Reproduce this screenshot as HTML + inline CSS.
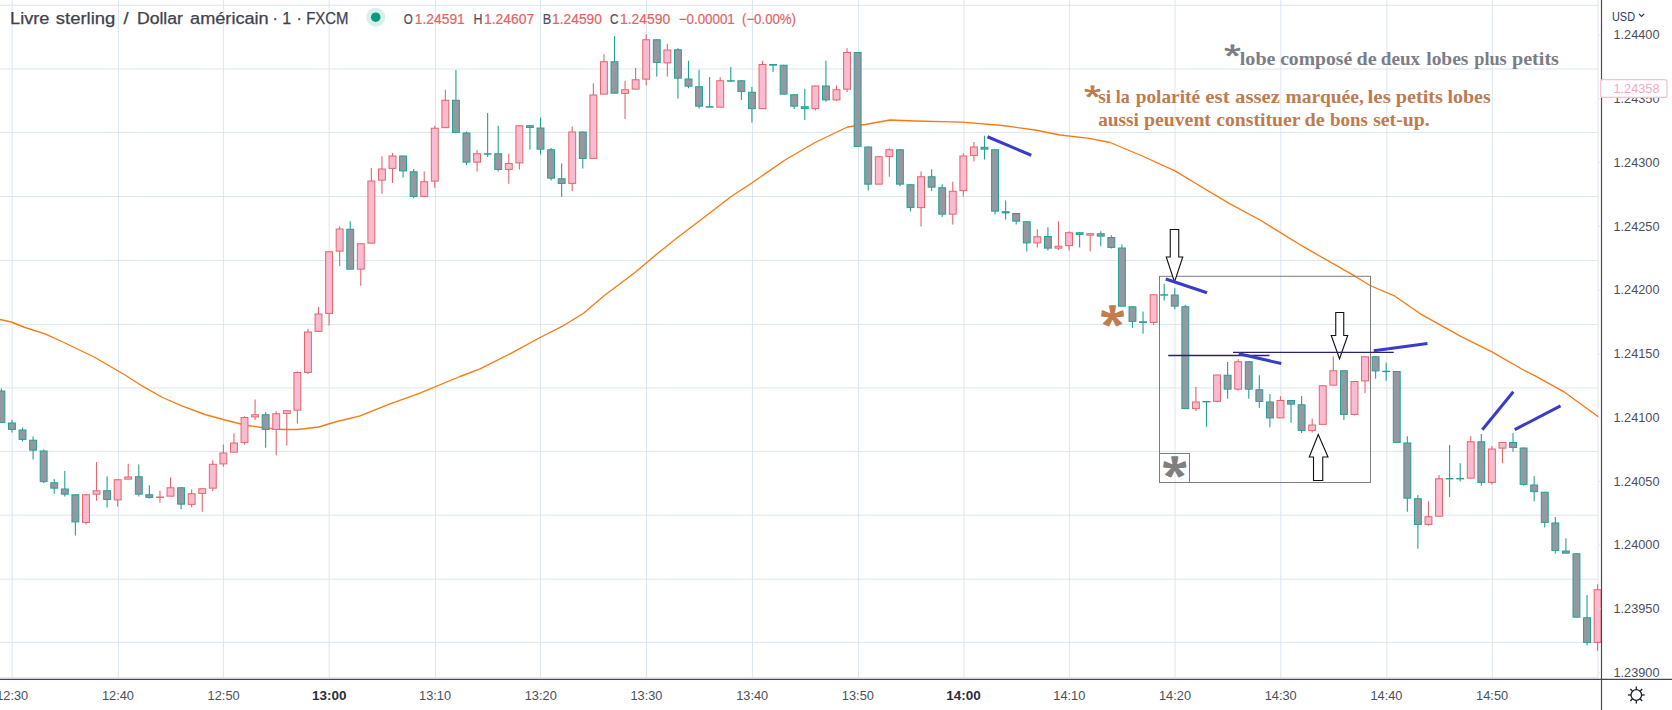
<!DOCTYPE html>
<html lang="fr"><head><meta charset="utf-8"><title>GBPUSD</title>
<style>html,body{margin:0;padding:0;background:#fff}body{width:1672px;height:710px;overflow:hidden}svg{display:block}text{font-family:"Liberation Sans",sans-serif}.ser{font-family:"Liberation Serif",serif;font-weight:bold}</style></head><body>
<svg width="1672" height="710" viewBox="0 0 1672 710">
<rect x="0" y="0" width="1672" height="710" fill="#ffffff"/>
<g stroke="#dce6ef" stroke-width="1" fill="none">
<line x1="0" y1="5.30" x2="1598.5" y2="5.30"/>
<line x1="0" y1="69.00" x2="1598.5" y2="69.00"/>
<line x1="0" y1="132.40" x2="1598.5" y2="132.40"/>
<line x1="0" y1="196.50" x2="1598.5" y2="196.50"/>
<line x1="0" y1="260.40" x2="1598.5" y2="260.40"/>
<line x1="0" y1="324.40" x2="1598.5" y2="324.40"/>
<line x1="0" y1="387.90" x2="1598.5" y2="387.90"/>
<line x1="0" y1="451.40" x2="1598.5" y2="451.40"/>
<line x1="0" y1="515.20" x2="1598.5" y2="515.20"/>
<line x1="0" y1="579.20" x2="1598.5" y2="579.20"/>
<line x1="0" y1="642.40" x2="1598.5" y2="642.40"/>
<line x1="12.20" y1="0" x2="12.20" y2="678"/>
<line x1="118.40" y1="0" x2="118.40" y2="678"/>
<line x1="223.40" y1="0" x2="223.40" y2="678"/>
<line x1="329.20" y1="0" x2="329.20" y2="678"/>
<line x1="435.50" y1="0" x2="435.50" y2="678"/>
<line x1="540.50" y1="0" x2="540.50" y2="678"/>
<line x1="646.50" y1="0" x2="646.50" y2="678"/>
<line x1="752.40" y1="0" x2="752.40" y2="678"/>
<line x1="858.50" y1="0" x2="858.50" y2="678"/>
<line x1="963.90" y1="0" x2="963.90" y2="678"/>
<line x1="1069.40" y1="0" x2="1069.40" y2="678"/>
<line x1="1175.00" y1="0" x2="1175.00" y2="678"/>
<line x1="1280.80" y1="0" x2="1280.80" y2="678"/>
<line x1="1386.80" y1="0" x2="1386.80" y2="678"/>
<line x1="1492.30" y1="0" x2="1492.30" y2="678"/>
<line x1="1597.90" y1="0" x2="1597.90" y2="678"/>
</g>
<line x1="0" y1="677.6" x2="1598.5" y2="677.6" stroke="#dce6ef" stroke-width="1"/>
<polyline fill="none" stroke="#fa7a12" stroke-width="1.35" stroke-linejoin="round" points="0.0,319.5 11.2,322.0 25.0,327.5 45.0,333.8 65.0,343.0 95.0,357.5 125.0,375.0 142.5,386.2 162.5,397.5 182.5,406.2 205.0,414.5 225.0,420.0 245.0,425.0 265.0,428.0 282.5,429.5 297.5,429.5 318.8,427.0 335.0,422.0 360.0,415.8 390.0,403.8 418.0,393.8 460.0,376.5 480.0,368.8 510.0,353.8 540.0,337.5 562.5,326.2 583.8,313.0 605.0,295.0 635.0,272.5 655.0,255.5 677.5,237.5 698.0,222.0 731.2,196.5 752.5,182.5 785.0,160.0 815.0,142.5 847.5,127.0 865.0,124.5 890.0,120.0 915.0,121.0 962.5,122.2 1002.5,125.5 1035.0,130.0 1060.0,135.0 1087.5,138.2 1110.0,142.5 1140.0,155.0 1175.0,170.8 1202.5,187.5 1230.0,203.8 1260.0,220.0 1302.5,246.2 1355.0,276.2 1370.0,285.5 1395.0,296.2 1420.3,313.8 1460.8,336.3 1492.4,352.1 1521.7,369.0 1535.2,375.8 1564.5,392.2 1598.3,416.8"/>
<g id="candles">
<line x1="1.38" y1="388.50" x2="1.38" y2="422.50" stroke="#24a093" stroke-width="1.1"/>
<rect x="-2.07" y="391.00" width="6.90" height="31.40" fill="#9598a1" stroke="#24a093" stroke-width="1"/>
<line x1="11.95" y1="420.00" x2="11.95" y2="432.50" stroke="#24a093" stroke-width="1.1"/>
<rect x="8.50" y="423.00" width="6.90" height="6.40" fill="#9598a1" stroke="#24a093" stroke-width="1"/>
<line x1="22.52" y1="427.50" x2="22.52" y2="441.50" stroke="#24a093" stroke-width="1.1"/>
<rect x="19.07" y="430.00" width="6.90" height="9.40" fill="#9598a1" stroke="#24a093" stroke-width="1"/>
<line x1="33.09" y1="436.50" x2="33.09" y2="459.50" stroke="#24a093" stroke-width="1.1"/>
<rect x="29.64" y="440.25" width="6.90" height="9.90" fill="#9598a1" stroke="#24a093" stroke-width="1"/>
<line x1="43.66" y1="449.50" x2="43.66" y2="483.00" stroke="#24a093" stroke-width="1.1"/>
<rect x="40.21" y="451.00" width="6.90" height="30.65" fill="#9598a1" stroke="#24a093" stroke-width="1"/>
<line x1="54.23" y1="479.00" x2="54.23" y2="493.75" stroke="#24a093" stroke-width="1.1"/>
<rect x="50.78" y="482.75" width="6.90" height="5.40" fill="#9598a1" stroke="#24a093" stroke-width="1"/>
<line x1="64.80" y1="471.00" x2="64.80" y2="496.50" stroke="#24a093" stroke-width="1.1"/>
<rect x="61.35" y="489.00" width="6.90" height="5.15" fill="#9598a1" stroke="#24a093" stroke-width="1"/>
<line x1="75.38" y1="494.25" x2="75.38" y2="535.50" stroke="#24a093" stroke-width="1.1"/>
<rect x="71.93" y="494.75" width="6.90" height="27.15" fill="#9598a1" stroke="#24a093" stroke-width="1"/>
<line x1="85.95" y1="494.25" x2="85.95" y2="524.50" stroke="#e4666c" stroke-width="1.1"/>
<rect x="82.50" y="494.75" width="6.90" height="27.65" fill="#f8bbd0" stroke="#e4666c" stroke-width="1"/>
<line x1="96.52" y1="462.00" x2="96.52" y2="500.75" stroke="#e4666c" stroke-width="1.1"/>
<rect x="93.07" y="490.75" width="6.90" height="3.40" fill="#f8bbd0" stroke="#e4666c" stroke-width="1"/>
<line x1="107.09" y1="476.25" x2="107.09" y2="507.50" stroke="#24a093" stroke-width="1.1"/>
<rect x="103.64" y="490.75" width="6.90" height="8.65" fill="#9598a1" stroke="#24a093" stroke-width="1"/>
<line x1="117.66" y1="479.25" x2="117.66" y2="506.50" stroke="#e4666c" stroke-width="1.1"/>
<rect x="114.21" y="479.75" width="6.90" height="20.15" fill="#f8bbd0" stroke="#e4666c" stroke-width="1"/>
<line x1="128.23" y1="463.75" x2="128.23" y2="479.25" stroke="#e4666c" stroke-width="1.1"/>
<rect x="124.78" y="477.00" width="6.90" height="2.15" fill="#f8bbd0" stroke="#e4666c" stroke-width="1"/>
<line x1="138.80" y1="464.50" x2="138.80" y2="496.50" stroke="#24a093" stroke-width="1.1"/>
<rect x="135.35" y="476.75" width="6.90" height="17.40" fill="#9598a1" stroke="#24a093" stroke-width="1"/>
<line x1="149.37" y1="485.25" x2="149.37" y2="498.50" stroke="#24a093" stroke-width="1.1"/>
<rect x="145.92" y="494.75" width="6.90" height="2.65" fill="#9598a1" stroke="#24a093" stroke-width="1"/>
<line x1="159.94" y1="490.75" x2="159.94" y2="502.75" stroke="#e4666c" stroke-width="1.1"/>
<rect x="156.49" y="497.00" width="6.90" height="0.40" fill="#f8bbd0" stroke="#e4666c" stroke-width="1"/>
<line x1="170.51" y1="477.25" x2="170.51" y2="496.25" stroke="#e4666c" stroke-width="1.1"/>
<rect x="167.06" y="487.75" width="6.90" height="8.40" fill="#f8bbd0" stroke="#e4666c" stroke-width="1"/>
<line x1="181.09" y1="487.25" x2="181.09" y2="509.25" stroke="#24a093" stroke-width="1.1"/>
<rect x="177.64" y="487.75" width="6.90" height="16.40" fill="#9598a1" stroke="#24a093" stroke-width="1"/>
<line x1="191.66" y1="489.25" x2="191.66" y2="507.50" stroke="#e4666c" stroke-width="1.1"/>
<rect x="188.21" y="493.75" width="6.90" height="10.65" fill="#f8bbd0" stroke="#e4666c" stroke-width="1"/>
<line x1="202.23" y1="488.25" x2="202.23" y2="511.75" stroke="#e4666c" stroke-width="1.1"/>
<rect x="198.78" y="488.75" width="6.90" height="4.65" fill="#f8bbd0" stroke="#e4666c" stroke-width="1"/>
<line x1="212.80" y1="460.25" x2="212.80" y2="491.25" stroke="#e4666c" stroke-width="1.1"/>
<rect x="209.35" y="464.25" width="6.90" height="23.90" fill="#f8bbd0" stroke="#e4666c" stroke-width="1"/>
<line x1="223.37" y1="444.50" x2="223.37" y2="466.75" stroke="#e4666c" stroke-width="1.1"/>
<rect x="219.92" y="453.00" width="6.90" height="10.90" fill="#f8bbd0" stroke="#e4666c" stroke-width="1"/>
<line x1="233.94" y1="433.25" x2="233.94" y2="452.25" stroke="#e4666c" stroke-width="1.1"/>
<rect x="230.49" y="443.00" width="6.90" height="9.15" fill="#f8bbd0" stroke="#e4666c" stroke-width="1"/>
<line x1="244.51" y1="416.25" x2="244.51" y2="444.50" stroke="#e4666c" stroke-width="1.1"/>
<rect x="241.06" y="417.50" width="6.90" height="24.90" fill="#f8bbd0" stroke="#e4666c" stroke-width="1"/>
<line x1="255.08" y1="399.50" x2="255.08" y2="420.00" stroke="#e4666c" stroke-width="1.1"/>
<rect x="251.63" y="414.75" width="6.90" height="2.15" fill="#f8bbd0" stroke="#e4666c" stroke-width="1"/>
<line x1="265.65" y1="412.25" x2="265.65" y2="447.75" stroke="#24a093" stroke-width="1.1"/>
<rect x="262.20" y="414.75" width="6.90" height="14.65" fill="#9598a1" stroke="#24a093" stroke-width="1"/>
<line x1="276.22" y1="411.25" x2="276.22" y2="455.25" stroke="#e4666c" stroke-width="1.1"/>
<rect x="272.77" y="413.75" width="6.90" height="15.65" fill="#f8bbd0" stroke="#e4666c" stroke-width="1"/>
<line x1="286.80" y1="410.25" x2="286.80" y2="445.50" stroke="#e4666c" stroke-width="1.1"/>
<rect x="283.35" y="410.75" width="6.90" height="2.65" fill="#f8bbd0" stroke="#e4666c" stroke-width="1"/>
<line x1="297.37" y1="371.25" x2="297.37" y2="423.50" stroke="#e4666c" stroke-width="1.1"/>
<rect x="293.92" y="372.50" width="6.90" height="37.65" fill="#f8bbd0" stroke="#e4666c" stroke-width="1"/>
<line x1="307.94" y1="328.75" x2="307.94" y2="374.00" stroke="#e4666c" stroke-width="1.1"/>
<rect x="304.49" y="332.00" width="6.90" height="40.40" fill="#f8bbd0" stroke="#e4666c" stroke-width="1"/>
<line x1="318.51" y1="307.00" x2="318.51" y2="331.50" stroke="#e4666c" stroke-width="1.1"/>
<rect x="315.06" y="314.00" width="6.90" height="17.40" fill="#f8bbd0" stroke="#e4666c" stroke-width="1"/>
<line x1="329.08" y1="251.25" x2="329.08" y2="325.50" stroke="#e4666c" stroke-width="1.1"/>
<rect x="325.63" y="251.75" width="6.90" height="61.65" fill="#f8bbd0" stroke="#e4666c" stroke-width="1"/>
<line x1="339.65" y1="226.50" x2="339.65" y2="266.00" stroke="#e4666c" stroke-width="1.1"/>
<rect x="336.20" y="229.00" width="6.90" height="22.15" fill="#f8bbd0" stroke="#e4666c" stroke-width="1"/>
<line x1="350.22" y1="221.25" x2="350.22" y2="269.25" stroke="#24a093" stroke-width="1.1"/>
<rect x="346.77" y="229.25" width="6.90" height="39.90" fill="#9598a1" stroke="#24a093" stroke-width="1"/>
<line x1="360.79" y1="243.25" x2="360.79" y2="285.75" stroke="#e4666c" stroke-width="1.1"/>
<rect x="357.34" y="243.75" width="6.90" height="25.40" fill="#f8bbd0" stroke="#e4666c" stroke-width="1"/>
<line x1="371.36" y1="168.00" x2="371.36" y2="243.25" stroke="#e4666c" stroke-width="1.1"/>
<rect x="367.91" y="181.00" width="6.90" height="62.15" fill="#f8bbd0" stroke="#e4666c" stroke-width="1"/>
<line x1="381.94" y1="156.25" x2="381.94" y2="193.75" stroke="#e4666c" stroke-width="1.1"/>
<rect x="378.49" y="169.00" width="6.90" height="11.15" fill="#f8bbd0" stroke="#e4666c" stroke-width="1"/>
<line x1="392.51" y1="153.00" x2="392.51" y2="183.00" stroke="#e4666c" stroke-width="1.1"/>
<rect x="389.06" y="156.00" width="6.90" height="12.40" fill="#f8bbd0" stroke="#e4666c" stroke-width="1"/>
<line x1="403.08" y1="155.50" x2="403.08" y2="177.50" stroke="#24a093" stroke-width="1.1"/>
<rect x="399.63" y="156.00" width="6.90" height="14.90" fill="#9598a1" stroke="#24a093" stroke-width="1"/>
<line x1="413.65" y1="169.00" x2="413.65" y2="198.25" stroke="#24a093" stroke-width="1.1"/>
<rect x="410.20" y="171.75" width="6.90" height="24.65" fill="#9598a1" stroke="#24a093" stroke-width="1"/>
<line x1="424.22" y1="171.50" x2="424.22" y2="196.50" stroke="#e4666c" stroke-width="1.1"/>
<rect x="420.77" y="181.75" width="6.90" height="14.65" fill="#f8bbd0" stroke="#e4666c" stroke-width="1"/>
<line x1="434.79" y1="125.75" x2="434.79" y2="187.75" stroke="#e4666c" stroke-width="1.1"/>
<rect x="431.34" y="128.25" width="6.90" height="52.90" fill="#f8bbd0" stroke="#e4666c" stroke-width="1"/>
<line x1="445.36" y1="89.75" x2="445.36" y2="127.75" stroke="#e4666c" stroke-width="1.1"/>
<rect x="441.91" y="100.25" width="6.90" height="27.40" fill="#f8bbd0" stroke="#e4666c" stroke-width="1"/>
<line x1="455.93" y1="70.00" x2="455.93" y2="132.50" stroke="#24a093" stroke-width="1.1"/>
<rect x="452.48" y="100.25" width="6.90" height="32.15" fill="#9598a1" stroke="#24a093" stroke-width="1"/>
<line x1="466.50" y1="131.50" x2="466.50" y2="165.00" stroke="#24a093" stroke-width="1.1"/>
<rect x="463.05" y="133.00" width="6.90" height="29.15" fill="#9598a1" stroke="#24a093" stroke-width="1"/>
<line x1="477.07" y1="150.00" x2="477.07" y2="171.50" stroke="#e4666c" stroke-width="1.1"/>
<rect x="473.62" y="153.75" width="6.90" height="8.40" fill="#f8bbd0" stroke="#e4666c" stroke-width="1"/>
<line x1="487.64" y1="113.00" x2="487.64" y2="157.00" stroke="#24a093" stroke-width="1.1"/>
<rect x="484.19" y="153.75" width="6.90" height="0.40" fill="#9598a1" stroke="#24a093" stroke-width="1"/>
<line x1="498.22" y1="125.75" x2="498.22" y2="171.50" stroke="#24a093" stroke-width="1.1"/>
<rect x="494.77" y="153.75" width="6.90" height="15.65" fill="#9598a1" stroke="#24a093" stroke-width="1"/>
<line x1="508.79" y1="153.75" x2="508.79" y2="183.75" stroke="#e4666c" stroke-width="1.1"/>
<rect x="505.34" y="163.50" width="6.90" height="5.90" fill="#f8bbd0" stroke="#e4666c" stroke-width="1"/>
<line x1="519.36" y1="125.25" x2="519.36" y2="169.50" stroke="#e4666c" stroke-width="1.1"/>
<rect x="515.91" y="125.75" width="6.90" height="37.15" fill="#f8bbd0" stroke="#e4666c" stroke-width="1"/>
<line x1="529.93" y1="125.25" x2="529.93" y2="149.50" stroke="#24a093" stroke-width="1.1"/>
<rect x="526.48" y="125.75" width="6.90" height="1.65" fill="#9598a1" stroke="#24a093" stroke-width="1"/>
<line x1="540.50" y1="117.50" x2="540.50" y2="154.25" stroke="#24a093" stroke-width="1.1"/>
<rect x="537.05" y="128.00" width="6.90" height="21.15" fill="#9598a1" stroke="#24a093" stroke-width="1"/>
<line x1="551.07" y1="148.00" x2="551.07" y2="180.50" stroke="#24a093" stroke-width="1.1"/>
<rect x="547.62" y="149.75" width="6.90" height="28.40" fill="#9598a1" stroke="#24a093" stroke-width="1"/>
<line x1="561.64" y1="163.50" x2="561.64" y2="196.75" stroke="#24a093" stroke-width="1.1"/>
<rect x="558.19" y="178.75" width="6.90" height="4.65" fill="#9598a1" stroke="#24a093" stroke-width="1"/>
<line x1="572.21" y1="126.50" x2="572.21" y2="191.00" stroke="#e4666c" stroke-width="1.1"/>
<rect x="568.76" y="132.00" width="6.90" height="51.40" fill="#f8bbd0" stroke="#e4666c" stroke-width="1"/>
<line x1="582.78" y1="131.50" x2="582.78" y2="168.50" stroke="#24a093" stroke-width="1.1"/>
<rect x="579.33" y="132.00" width="6.90" height="26.40" fill="#9598a1" stroke="#24a093" stroke-width="1"/>
<line x1="593.36" y1="83.25" x2="593.36" y2="158.50" stroke="#e4666c" stroke-width="1.1"/>
<rect x="589.90" y="95.00" width="6.90" height="63.40" fill="#f8bbd0" stroke="#e4666c" stroke-width="1"/>
<line x1="603.93" y1="54.25" x2="603.93" y2="94.25" stroke="#e4666c" stroke-width="1.1"/>
<rect x="600.48" y="61.75" width="6.90" height="32.40" fill="#f8bbd0" stroke="#e4666c" stroke-width="1"/>
<line x1="614.50" y1="36.25" x2="614.50" y2="93.25" stroke="#24a093" stroke-width="1.1"/>
<rect x="611.05" y="61.75" width="6.90" height="31.40" fill="#9598a1" stroke="#24a093" stroke-width="1"/>
<line x1="625.07" y1="80.75" x2="625.07" y2="119.00" stroke="#e4666c" stroke-width="1.1"/>
<rect x="621.62" y="89.75" width="6.90" height="3.65" fill="#f8bbd0" stroke="#e4666c" stroke-width="1"/>
<line x1="635.64" y1="68.00" x2="635.64" y2="89.25" stroke="#e4666c" stroke-width="1.1"/>
<rect x="632.19" y="79.75" width="6.90" height="9.40" fill="#f8bbd0" stroke="#e4666c" stroke-width="1"/>
<line x1="646.21" y1="34.25" x2="646.21" y2="85.50" stroke="#e4666c" stroke-width="1.1"/>
<rect x="642.76" y="39.75" width="6.90" height="39.40" fill="#f8bbd0" stroke="#e4666c" stroke-width="1"/>
<line x1="656.78" y1="39.25" x2="656.78" y2="76.50" stroke="#24a093" stroke-width="1.1"/>
<rect x="653.33" y="39.75" width="6.90" height="22.65" fill="#9598a1" stroke="#24a093" stroke-width="1"/>
<line x1="667.35" y1="43.75" x2="667.35" y2="76.50" stroke="#e4666c" stroke-width="1.1"/>
<rect x="663.90" y="50.00" width="6.90" height="12.90" fill="#f8bbd0" stroke="#e4666c" stroke-width="1"/>
<line x1="677.92" y1="48.25" x2="677.92" y2="98.50" stroke="#24a093" stroke-width="1.1"/>
<rect x="674.47" y="49.75" width="6.90" height="28.40" fill="#9598a1" stroke="#24a093" stroke-width="1"/>
<line x1="688.49" y1="60.75" x2="688.49" y2="88.25" stroke="#24a093" stroke-width="1.1"/>
<rect x="685.04" y="79.00" width="6.90" height="7.15" fill="#9598a1" stroke="#24a093" stroke-width="1"/>
<line x1="699.07" y1="69.75" x2="699.07" y2="108.75" stroke="#24a093" stroke-width="1.1"/>
<rect x="695.62" y="86.75" width="6.90" height="19.40" fill="#9598a1" stroke="#24a093" stroke-width="1"/>
<line x1="709.64" y1="77.00" x2="709.64" y2="107.25" stroke="#24a093" stroke-width="1.1"/>
<rect x="706.19" y="106.75" width="6.90" height="0.40" fill="#9598a1" stroke="#24a093" stroke-width="1"/>
<line x1="720.21" y1="77.25" x2="720.21" y2="107.25" stroke="#e4666c" stroke-width="1.1"/>
<rect x="716.76" y="80.75" width="6.90" height="26.40" fill="#f8bbd0" stroke="#e4666c" stroke-width="1"/>
<line x1="730.78" y1="67.00" x2="730.78" y2="82.00" stroke="#24a093" stroke-width="1.1"/>
<rect x="727.33" y="80.75" width="6.90" height="0.40" fill="#9598a1" stroke="#24a093" stroke-width="1"/>
<line x1="741.35" y1="80.25" x2="741.35" y2="100.00" stroke="#24a093" stroke-width="1.1"/>
<rect x="737.90" y="80.75" width="6.90" height="10.65" fill="#9598a1" stroke="#24a093" stroke-width="1"/>
<line x1="751.92" y1="87.00" x2="751.92" y2="122.50" stroke="#24a093" stroke-width="1.1"/>
<rect x="748.47" y="92.25" width="6.90" height="16.40" fill="#9598a1" stroke="#24a093" stroke-width="1"/>
<line x1="762.49" y1="60.75" x2="762.49" y2="108.75" stroke="#e4666c" stroke-width="1.1"/>
<rect x="759.04" y="64.50" width="6.90" height="44.15" fill="#f8bbd0" stroke="#e4666c" stroke-width="1"/>
<line x1="773.06" y1="64.00" x2="773.06" y2="72.00" stroke="#24a093" stroke-width="1.1"/>
<rect x="769.61" y="64.50" width="6.90" height="0.65" fill="#9598a1" stroke="#24a093" stroke-width="1"/>
<line x1="783.63" y1="64.75" x2="783.63" y2="94.25" stroke="#24a093" stroke-width="1.1"/>
<rect x="780.18" y="65.25" width="6.90" height="28.90" fill="#9598a1" stroke="#24a093" stroke-width="1"/>
<line x1="794.20" y1="94.25" x2="794.20" y2="109.00" stroke="#24a093" stroke-width="1.1"/>
<rect x="790.75" y="94.75" width="6.90" height="11.40" fill="#9598a1" stroke="#24a093" stroke-width="1"/>
<line x1="804.77" y1="88.75" x2="804.77" y2="120.00" stroke="#24a093" stroke-width="1.1"/>
<rect x="801.32" y="106.75" width="6.90" height="1.90" fill="#9598a1" stroke="#24a093" stroke-width="1"/>
<line x1="815.35" y1="85.50" x2="815.35" y2="110.50" stroke="#e4666c" stroke-width="1.1"/>
<rect x="811.90" y="86.00" width="6.90" height="22.65" fill="#f8bbd0" stroke="#e4666c" stroke-width="1"/>
<line x1="825.92" y1="60.75" x2="825.92" y2="101.75" stroke="#24a093" stroke-width="1.1"/>
<rect x="822.47" y="86.00" width="6.90" height="13.90" fill="#9598a1" stroke="#24a093" stroke-width="1"/>
<line x1="836.49" y1="85.50" x2="836.49" y2="101.00" stroke="#e4666c" stroke-width="1.1"/>
<rect x="833.04" y="89.75" width="6.90" height="10.15" fill="#f8bbd0" stroke="#e4666c" stroke-width="1"/>
<line x1="847.06" y1="48.25" x2="847.06" y2="92.00" stroke="#e4666c" stroke-width="1.1"/>
<rect x="843.61" y="52.50" width="6.90" height="36.65" fill="#f8bbd0" stroke="#e4666c" stroke-width="1"/>
<line x1="857.63" y1="52.00" x2="857.63" y2="146.50" stroke="#24a093" stroke-width="1.1"/>
<rect x="854.18" y="52.50" width="6.90" height="93.90" fill="#9598a1" stroke="#24a093" stroke-width="1"/>
<line x1="868.20" y1="146.50" x2="868.20" y2="190.50" stroke="#24a093" stroke-width="1.1"/>
<rect x="864.75" y="147.00" width="6.90" height="37.15" fill="#9598a1" stroke="#24a093" stroke-width="1"/>
<line x1="878.77" y1="156.25" x2="878.77" y2="184.25" stroke="#e4666c" stroke-width="1.1"/>
<rect x="875.32" y="156.75" width="6.90" height="27.40" fill="#f8bbd0" stroke="#e4666c" stroke-width="1"/>
<line x1="889.34" y1="148.25" x2="889.34" y2="176.75" stroke="#e4666c" stroke-width="1.1"/>
<rect x="885.89" y="149.75" width="6.90" height="6.65" fill="#f8bbd0" stroke="#e4666c" stroke-width="1"/>
<line x1="899.91" y1="149.25" x2="899.91" y2="186.25" stroke="#24a093" stroke-width="1.1"/>
<rect x="896.46" y="149.75" width="6.90" height="34.40" fill="#9598a1" stroke="#24a093" stroke-width="1"/>
<line x1="910.49" y1="184.25" x2="910.49" y2="211.50" stroke="#24a093" stroke-width="1.1"/>
<rect x="907.03" y="184.75" width="6.90" height="22.65" fill="#9598a1" stroke="#24a093" stroke-width="1"/>
<line x1="921.06" y1="171.50" x2="921.06" y2="226.50" stroke="#e4666c" stroke-width="1.1"/>
<rect x="917.61" y="176.75" width="6.90" height="30.90" fill="#f8bbd0" stroke="#e4666c" stroke-width="1"/>
<line x1="931.63" y1="169.25" x2="931.63" y2="191.00" stroke="#24a093" stroke-width="1.1"/>
<rect x="928.18" y="176.75" width="6.90" height="10.40" fill="#9598a1" stroke="#24a093" stroke-width="1"/>
<line x1="942.20" y1="184.25" x2="942.20" y2="217.00" stroke="#24a093" stroke-width="1.1"/>
<rect x="938.75" y="187.75" width="6.90" height="26.40" fill="#9598a1" stroke="#24a093" stroke-width="1"/>
<line x1="952.77" y1="181.75" x2="952.77" y2="224.50" stroke="#e4666c" stroke-width="1.1"/>
<rect x="949.32" y="191.25" width="6.90" height="22.90" fill="#f8bbd0" stroke="#e4666c" stroke-width="1"/>
<line x1="963.34" y1="153.25" x2="963.34" y2="196.50" stroke="#e4666c" stroke-width="1.1"/>
<rect x="959.89" y="156.00" width="6.90" height="34.65" fill="#f8bbd0" stroke="#e4666c" stroke-width="1"/>
<line x1="973.91" y1="142.00" x2="973.91" y2="161.50" stroke="#e4666c" stroke-width="1.1"/>
<rect x="970.46" y="147.00" width="6.90" height="8.40" fill="#f8bbd0" stroke="#e4666c" stroke-width="1"/>
<line x1="984.48" y1="135.75" x2="984.48" y2="159.50" stroke="#24a093" stroke-width="1.1"/>
<rect x="981.03" y="147.25" width="6.90" height="1.90" fill="#9598a1" stroke="#24a093" stroke-width="1"/>
<line x1="995.05" y1="149.25" x2="995.05" y2="214.50" stroke="#24a093" stroke-width="1.1"/>
<rect x="991.60" y="149.75" width="6.90" height="61.40" fill="#9598a1" stroke="#24a093" stroke-width="1"/>
<line x1="1005.62" y1="200.50" x2="1005.62" y2="219.50" stroke="#24a093" stroke-width="1.1"/>
<rect x="1002.17" y="211.75" width="6.90" height="1.15" fill="#9598a1" stroke="#24a093" stroke-width="1"/>
<line x1="1016.20" y1="213.00" x2="1016.20" y2="224.50" stroke="#24a093" stroke-width="1.1"/>
<rect x="1012.75" y="213.50" width="6.90" height="7.65" fill="#9598a1" stroke="#24a093" stroke-width="1"/>
<line x1="1026.77" y1="221.25" x2="1026.77" y2="251.50" stroke="#24a093" stroke-width="1.1"/>
<rect x="1023.32" y="221.75" width="6.90" height="21.15" fill="#9598a1" stroke="#24a093" stroke-width="1"/>
<line x1="1037.34" y1="229.25" x2="1037.34" y2="247.50" stroke="#e4666c" stroke-width="1.1"/>
<rect x="1033.89" y="236.75" width="6.90" height="6.15" fill="#f8bbd0" stroke="#e4666c" stroke-width="1"/>
<line x1="1047.91" y1="227.25" x2="1047.91" y2="250.50" stroke="#24a093" stroke-width="1.1"/>
<rect x="1044.46" y="236.50" width="6.90" height="11.65" fill="#9598a1" stroke="#24a093" stroke-width="1"/>
<line x1="1058.48" y1="221.25" x2="1058.48" y2="250.00" stroke="#e4666c" stroke-width="1.1"/>
<rect x="1055.03" y="246.25" width="6.90" height="1.90" fill="#f8bbd0" stroke="#e4666c" stroke-width="1"/>
<line x1="1069.05" y1="231.25" x2="1069.05" y2="250.50" stroke="#e4666c" stroke-width="1.1"/>
<rect x="1065.60" y="232.75" width="6.90" height="12.90" fill="#f8bbd0" stroke="#e4666c" stroke-width="1"/>
<line x1="1079.62" y1="232.25" x2="1079.62" y2="247.50" stroke="#24a093" stroke-width="1.1"/>
<rect x="1076.17" y="232.75" width="6.90" height="1.65" fill="#9598a1" stroke="#24a093" stroke-width="1"/>
<line x1="1090.19" y1="233.25" x2="1090.19" y2="251.50" stroke="#e4666c" stroke-width="1.1"/>
<rect x="1086.74" y="233.75" width="6.90" height="1.40" fill="#f8bbd0" stroke="#e4666c" stroke-width="1"/>
<line x1="1100.76" y1="231.25" x2="1100.76" y2="246.25" stroke="#24a093" stroke-width="1.1"/>
<rect x="1097.31" y="233.75" width="6.90" height="2.40" fill="#9598a1" stroke="#24a093" stroke-width="1"/>
<line x1="1111.33" y1="235.25" x2="1111.33" y2="248.50" stroke="#24a093" stroke-width="1.1"/>
<rect x="1107.88" y="237.50" width="6.90" height="9.90" fill="#9598a1" stroke="#24a093" stroke-width="1"/>
<line x1="1121.90" y1="244.25" x2="1121.90" y2="306.25" stroke="#24a093" stroke-width="1.1"/>
<rect x="1118.45" y="248.00" width="6.90" height="58.15" fill="#9598a1" stroke="#24a093" stroke-width="1"/>
<line x1="1132.48" y1="306.25" x2="1132.48" y2="328.00" stroke="#24a093" stroke-width="1.1"/>
<rect x="1129.03" y="306.75" width="6.90" height="14.65" fill="#9598a1" stroke="#24a093" stroke-width="1"/>
<line x1="1143.05" y1="311.50" x2="1143.05" y2="333.75" stroke="#24a093" stroke-width="1.1"/>
<rect x="1139.60" y="321.75" width="6.90" height="0.65" fill="#9598a1" stroke="#24a093" stroke-width="1"/>
<line x1="1153.62" y1="294.25" x2="1153.62" y2="325.00" stroke="#e4666c" stroke-width="1.1"/>
<rect x="1150.17" y="294.75" width="6.90" height="27.65" fill="#f8bbd0" stroke="#e4666c" stroke-width="1"/>
<line x1="1164.19" y1="283.75" x2="1164.19" y2="300.50" stroke="#24a093" stroke-width="1.1"/>
<rect x="1160.74" y="294.75" width="6.90" height="0.40" fill="#9598a1" stroke="#24a093" stroke-width="1"/>
<line x1="1174.76" y1="288.25" x2="1174.76" y2="309.25" stroke="#24a093" stroke-width="1.1"/>
<rect x="1171.31" y="295.00" width="6.90" height="11.15" fill="#9598a1" stroke="#24a093" stroke-width="1"/>
<line x1="1185.33" y1="305.00" x2="1185.33" y2="408.75" stroke="#24a093" stroke-width="1.1"/>
<rect x="1181.88" y="306.75" width="6.90" height="101.90" fill="#9598a1" stroke="#24a093" stroke-width="1"/>
<line x1="1195.90" y1="387.00" x2="1195.90" y2="411.00" stroke="#e4666c" stroke-width="1.1"/>
<rect x="1192.45" y="402.00" width="6.90" height="6.65" fill="#f8bbd0" stroke="#e4666c" stroke-width="1"/>
<line x1="1206.47" y1="401.00" x2="1206.47" y2="426.75" stroke="#24a093" stroke-width="1.1"/>
<rect x="1203.02" y="401.50" width="6.90" height="0.40" fill="#9598a1" stroke="#24a093" stroke-width="1"/>
<line x1="1217.04" y1="374.50" x2="1217.04" y2="401.50" stroke="#e4666c" stroke-width="1.1"/>
<rect x="1213.59" y="375.00" width="6.90" height="26.40" fill="#f8bbd0" stroke="#e4666c" stroke-width="1"/>
<line x1="1227.62" y1="362.00" x2="1227.62" y2="398.75" stroke="#24a093" stroke-width="1.1"/>
<rect x="1224.16" y="375.25" width="6.90" height="13.90" fill="#9598a1" stroke="#24a093" stroke-width="1"/>
<line x1="1238.19" y1="359.25" x2="1238.19" y2="390.75" stroke="#e4666c" stroke-width="1.1"/>
<rect x="1234.74" y="361.75" width="6.90" height="27.40" fill="#f8bbd0" stroke="#e4666c" stroke-width="1"/>
<line x1="1248.76" y1="361.25" x2="1248.76" y2="398.75" stroke="#24a093" stroke-width="1.1"/>
<rect x="1245.31" y="361.75" width="6.90" height="27.40" fill="#9598a1" stroke="#24a093" stroke-width="1"/>
<line x1="1259.33" y1="375.25" x2="1259.33" y2="408.00" stroke="#24a093" stroke-width="1.1"/>
<rect x="1255.88" y="389.75" width="6.90" height="11.65" fill="#9598a1" stroke="#24a093" stroke-width="1"/>
<line x1="1269.90" y1="394.00" x2="1269.90" y2="427.25" stroke="#24a093" stroke-width="1.1"/>
<rect x="1266.45" y="402.00" width="6.90" height="15.90" fill="#9598a1" stroke="#24a093" stroke-width="1"/>
<line x1="1280.47" y1="396.25" x2="1280.47" y2="418.00" stroke="#e4666c" stroke-width="1.1"/>
<rect x="1277.02" y="400.50" width="6.90" height="17.40" fill="#f8bbd0" stroke="#e4666c" stroke-width="1"/>
<line x1="1291.04" y1="400.00" x2="1291.04" y2="422.75" stroke="#24a093" stroke-width="1.1"/>
<rect x="1287.59" y="400.50" width="6.90" height="3.65" fill="#9598a1" stroke="#24a093" stroke-width="1"/>
<line x1="1301.61" y1="396.00" x2="1301.61" y2="433.00" stroke="#24a093" stroke-width="1.1"/>
<rect x="1298.16" y="404.75" width="6.90" height="25.65" fill="#9598a1" stroke="#24a093" stroke-width="1"/>
<line x1="1312.18" y1="418.50" x2="1312.18" y2="432.50" stroke="#e4666c" stroke-width="1.1"/>
<rect x="1308.73" y="425.00" width="6.90" height="5.40" fill="#f8bbd0" stroke="#e4666c" stroke-width="1"/>
<line x1="1322.75" y1="385.25" x2="1322.75" y2="424.50" stroke="#e4666c" stroke-width="1.1"/>
<rect x="1319.30" y="385.75" width="6.90" height="38.65" fill="#f8bbd0" stroke="#e4666c" stroke-width="1"/>
<line x1="1333.33" y1="356.25" x2="1333.33" y2="385.25" stroke="#e4666c" stroke-width="1.1"/>
<rect x="1329.88" y="370.75" width="6.90" height="14.40" fill="#f8bbd0" stroke="#e4666c" stroke-width="1"/>
<line x1="1343.90" y1="370.25" x2="1343.90" y2="420.00" stroke="#24a093" stroke-width="1.1"/>
<rect x="1340.45" y="370.75" width="6.90" height="43.65" fill="#9598a1" stroke="#24a093" stroke-width="1"/>
<line x1="1354.47" y1="381.00" x2="1354.47" y2="415.50" stroke="#e4666c" stroke-width="1.1"/>
<rect x="1351.02" y="381.50" width="6.90" height="32.90" fill="#f8bbd0" stroke="#e4666c" stroke-width="1"/>
<line x1="1365.04" y1="356.25" x2="1365.04" y2="393.00" stroke="#e4666c" stroke-width="1.1"/>
<rect x="1361.59" y="356.75" width="6.90" height="24.15" fill="#f8bbd0" stroke="#e4666c" stroke-width="1"/>
<line x1="1375.61" y1="356.25" x2="1375.61" y2="378.75" stroke="#24a093" stroke-width="1.1"/>
<rect x="1372.16" y="356.75" width="6.90" height="14.15" fill="#9598a1" stroke="#24a093" stroke-width="1"/>
<line x1="1386.18" y1="362.50" x2="1386.18" y2="380.75" stroke="#24a093" stroke-width="1.1"/>
<rect x="1382.73" y="371.25" width="6.90" height="0.40" fill="#9598a1" stroke="#24a093" stroke-width="1"/>
<line x1="1396.75" y1="371.00" x2="1396.75" y2="442.50" stroke="#24a093" stroke-width="1.1"/>
<rect x="1393.30" y="371.50" width="6.90" height="70.90" fill="#9598a1" stroke="#24a093" stroke-width="1"/>
<line x1="1407.32" y1="436.25" x2="1407.32" y2="511.75" stroke="#24a093" stroke-width="1.1"/>
<rect x="1403.87" y="443.00" width="6.90" height="55.15" fill="#9598a1" stroke="#24a093" stroke-width="1"/>
<line x1="1417.89" y1="495.00" x2="1417.89" y2="548.75" stroke="#24a093" stroke-width="1.1"/>
<rect x="1414.44" y="498.75" width="6.90" height="25.65" fill="#9598a1" stroke="#24a093" stroke-width="1"/>
<line x1="1428.46" y1="501.25" x2="1428.46" y2="525.75" stroke="#e4666c" stroke-width="1.1"/>
<rect x="1425.01" y="516.75" width="6.90" height="7.65" fill="#f8bbd0" stroke="#e4666c" stroke-width="1"/>
<line x1="1439.04" y1="475.00" x2="1439.04" y2="516.25" stroke="#e4666c" stroke-width="1.1"/>
<rect x="1435.59" y="478.75" width="6.90" height="37.40" fill="#f8bbd0" stroke="#e4666c" stroke-width="1"/>
<line x1="1449.61" y1="445.00" x2="1449.61" y2="497.00" stroke="#24a093" stroke-width="1.1"/>
<rect x="1446.16" y="478.50" width="6.90" height="0.40" fill="#9598a1" stroke="#24a093" stroke-width="1"/>
<line x1="1460.18" y1="463.25" x2="1460.18" y2="481.50" stroke="#24a093" stroke-width="1.1"/>
<rect x="1456.73" y="478.50" width="6.90" height="0.40" fill="#9598a1" stroke="#24a093" stroke-width="1"/>
<line x1="1470.75" y1="436.25" x2="1470.75" y2="478.25" stroke="#e4666c" stroke-width="1.1"/>
<rect x="1467.30" y="441.75" width="6.90" height="36.40" fill="#f8bbd0" stroke="#e4666c" stroke-width="1"/>
<line x1="1481.32" y1="434.00" x2="1481.32" y2="485.75" stroke="#24a093" stroke-width="1.1"/>
<rect x="1477.87" y="441.75" width="6.90" height="40.65" fill="#9598a1" stroke="#24a093" stroke-width="1"/>
<line x1="1491.89" y1="446.00" x2="1491.89" y2="484.50" stroke="#e4666c" stroke-width="1.1"/>
<rect x="1488.44" y="449.00" width="6.90" height="33.40" fill="#f8bbd0" stroke="#e4666c" stroke-width="1"/>
<line x1="1502.46" y1="442.00" x2="1502.46" y2="463.25" stroke="#e4666c" stroke-width="1.1"/>
<rect x="1499.01" y="442.50" width="6.90" height="5.65" fill="#f8bbd0" stroke="#e4666c" stroke-width="1"/>
<line x1="1513.03" y1="433.25" x2="1513.03" y2="451.75" stroke="#24a093" stroke-width="1.1"/>
<rect x="1509.58" y="442.50" width="6.90" height="4.90" fill="#9598a1" stroke="#24a093" stroke-width="1"/>
<line x1="1523.60" y1="447.50" x2="1523.60" y2="485.50" stroke="#24a093" stroke-width="1.1"/>
<rect x="1520.15" y="448.00" width="6.90" height="36.40" fill="#9598a1" stroke="#24a093" stroke-width="1"/>
<line x1="1534.17" y1="476.25" x2="1534.17" y2="501.25" stroke="#24a093" stroke-width="1.1"/>
<rect x="1530.72" y="485.00" width="6.90" height="6.65" fill="#9598a1" stroke="#24a093" stroke-width="1"/>
<line x1="1544.75" y1="491.75" x2="1544.75" y2="527.50" stroke="#24a093" stroke-width="1.1"/>
<rect x="1541.30" y="492.25" width="6.90" height="30.15" fill="#9598a1" stroke="#24a093" stroke-width="1"/>
<line x1="1555.32" y1="517.00" x2="1555.32" y2="553.50" stroke="#24a093" stroke-width="1.1"/>
<rect x="1551.87" y="523.00" width="6.90" height="27.40" fill="#9598a1" stroke="#24a093" stroke-width="1"/>
<line x1="1565.89" y1="538.25" x2="1565.89" y2="553.25" stroke="#24a093" stroke-width="1.1"/>
<rect x="1562.44" y="551.00" width="6.90" height="2.15" fill="#9598a1" stroke="#24a093" stroke-width="1"/>
<line x1="1576.46" y1="553.25" x2="1576.46" y2="617.25" stroke="#24a093" stroke-width="1.1"/>
<rect x="1573.01" y="553.75" width="6.90" height="63.40" fill="#9598a1" stroke="#24a093" stroke-width="1"/>
<line x1="1587.03" y1="595.00" x2="1587.03" y2="645.25" stroke="#24a093" stroke-width="1.1"/>
<rect x="1583.58" y="617.75" width="6.90" height="24.65" fill="#9598a1" stroke="#24a093" stroke-width="1"/>
<line x1="1597.60" y1="584.25" x2="1597.60" y2="650.75" stroke="#e4666c" stroke-width="1.1"/>
<rect x="1594.15" y="589.75" width="6.90" height="52.65" fill="#f8bbd0" stroke="#e4666c" stroke-width="1"/>
</g>
<g fill="none" stroke="#7d7d7d" stroke-width="1">
<rect x="1159.5" y="276.3" width="211" height="206.2"/>
<rect x="1159.5" y="453.5" width="30" height="29"/>
</g>
<g fill="#fff" stroke="#111" stroke-width="1.1" stroke-linejoin="miter">
<polygon points="1170.25,229.5 1178.75,229.5 1178.75,257 1182.75,257 1174.5,282 1166.25,257 1170.25,257"/>
<polygon points="1335.75,312.5 1343.75,312.5 1343.75,335.5 1347.75,335.5 1339.5,358.75 1331.25,335.5 1335.75,335.5"/>
<polygon points="1318.25,434.5 1328,457 1322.75,457 1322.75,480.5 1313.5,480.5 1313.5,457 1309.25,457"/>
</g>
<g stroke="#2e2266" stroke-width="1.3">
<line x1="1168.25" y1="355.5" x2="1269.5" y2="355.5"/>
<line x1="1233" y1="352.3" x2="1393.75" y2="352.3"/>
</g>
<g stroke="#3b3bc9" stroke-width="3" stroke-linecap="butt">
<line x1="987.5" y1="136.75" x2="1031.25" y2="155.25"/>
<line x1="1165.75" y1="279" x2="1207" y2="292.75"/>
<line x1="1238.75" y1="353.75" x2="1281.25" y2="363.5"/>
<line x1="1373.75" y1="350.75" x2="1427.5" y2="343.4"/>
<line x1="1482.3" y1="429.7" x2="1513.3" y2="391.7"/>
<line x1="1514.7" y1="429.7" x2="1560.5" y2="405.8"/>
</g>
<g transform="translate(1232.3,50.6) scale(1,0.748)"><text x="-8.14" y="8.61" font-size="23.59" style="font-family:'DejaVu Sans',sans-serif" fill="#7b7d87" stroke="#7b7d87" stroke-width="1.18" stroke-linejoin="round">&#x1F7B0;</text></g>
<g font-size="19" fill="#7b7d87">
<text class="ser" x="1239.80" y="64.9" textLength="35.66" lengthAdjust="spacingAndGlyphs">lobe</text>
<text class="ser" x="1280.15" y="64.9" textLength="72.00" lengthAdjust="spacingAndGlyphs">composé</text>
<text class="ser" x="1356.51" y="64.9" textLength="20.12" lengthAdjust="spacingAndGlyphs">de</text>
<text class="ser" x="1380.74" y="64.9" textLength="39.44" lengthAdjust="spacingAndGlyphs">deux</text>
<text class="ser" x="1426.22" y="64.9" textLength="42.23" lengthAdjust="spacingAndGlyphs">lobes</text>
<text class="ser" x="1474.26" y="64.9" textLength="32.46" lengthAdjust="spacingAndGlyphs">plus</text>
<text class="ser" x="1511.93" y="64.9" textLength="47.05" lengthAdjust="spacingAndGlyphs">petits</text>
</g>
<g transform="translate(1092.3,91.5) scale(1,0.742)"><text x="-8.14" y="8.61" font-size="23.59" style="font-family:'DejaVu Sans',sans-serif" fill="#bf7b50" stroke="#bf7b50" stroke-width="1.18" stroke-linejoin="round">&#x1F7B0;</text></g>
<g font-size="19" fill="#bf7b50">
<text class="ser" x="1098.17" y="102.8" textLength="12.85" lengthAdjust="spacingAndGlyphs">si</text>
<text class="ser" x="1115.74" y="102.8" textLength="14.02" lengthAdjust="spacingAndGlyphs">la</text>
<text class="ser" x="1135.75" y="102.8" textLength="64.21" lengthAdjust="spacingAndGlyphs">polarité</text>
<text class="ser" x="1205.31" y="102.8" textLength="24.46" lengthAdjust="spacingAndGlyphs">est</text>
<text class="ser" x="1235.12" y="102.8" textLength="44.93" lengthAdjust="spacingAndGlyphs">assez</text>
<text class="ser" x="1285.59" y="102.8" textLength="78.23" lengthAdjust="spacingAndGlyphs">marquée,</text>
<text class="ser" x="1367.48" y="102.8" textLength="23.45" lengthAdjust="spacingAndGlyphs">les</text>
<text class="ser" x="1395.73" y="102.8" textLength="47.15" lengthAdjust="spacingAndGlyphs">petits</text>
<text class="ser" x="1447.41" y="102.8" textLength="43.36" lengthAdjust="spacingAndGlyphs">lobes</text>
</g>
<g font-size="19" fill="#bf7b50">
<text class="ser" x="1098.16" y="125.5" textLength="40.81" lengthAdjust="spacingAndGlyphs">aussi</text>
<text class="ser" x="1144.04" y="125.5" textLength="66.92" lengthAdjust="spacingAndGlyphs">peuvent</text>
<text class="ser" x="1216.25" y="125.5" textLength="84.25" lengthAdjust="spacingAndGlyphs">constituer</text>
<text class="ser" x="1304.60" y="125.5" textLength="20.23" lengthAdjust="spacingAndGlyphs">de</text>
<text class="ser" x="1329.95" y="125.5" textLength="37.88" lengthAdjust="spacingAndGlyphs">bons</text>
<text class="ser" x="1373.15" y="125.5" textLength="56.56" lengthAdjust="spacingAndGlyphs">set-up.</text>
</g>
<g transform="translate(1112.1,316.2) scale(1,0.920)"><text x="-12.27" y="12.98" font-size="35.56" style="font-family:'DejaVu Sans',sans-serif" fill="#c07d50" stroke="#c07d50" stroke-width="1.42" stroke-linejoin="round">&#x1F7B1;</text></g>
<g transform="translate(1174.4,467.3) scale(1,0.908)"><text x="-12.49" y="13.21" font-size="36.19" style="font-family:'DejaVu Sans',sans-serif" fill="#7f7f7f" stroke="#7f7f7f" stroke-width="1.45" stroke-linejoin="round">&#x1F7B1;</text></g>
<g font-size="16" fill="#3f424d" stroke="#3f424d" stroke-width="0.25">
<text x="10.1" y="24" textLength="39.3" lengthAdjust="spacingAndGlyphs">Livre</text>
<text x="55.8" y="24" textLength="59.5" lengthAdjust="spacingAndGlyphs">sterling</text>
<text x="123.4" y="24" textLength="5.1" lengthAdjust="spacingAndGlyphs">/</text>
<text x="136.9" y="24" textLength="46.1" lengthAdjust="spacingAndGlyphs">Dollar</text>
<text x="190.1" y="24" textLength="78.6" lengthAdjust="spacingAndGlyphs">américain</text>
<text x="306.2" y="24" textLength="42.3" lengthAdjust="spacingAndGlyphs">FXCM</text>
<text x="275.1" y="24" text-anchor="middle">·</text>
<text x="286.6" y="24" text-anchor="middle">1</text>
<text x="299.1" y="24" text-anchor="middle">·</text>
</g>
<circle cx="375.7" cy="17.2" r="9.5" fill="#d9efea"/><circle cx="375.7" cy="17.2" r="4.8" fill="#0a9981"/>
<text x="403.7" y="24.4" font-size="14" fill="#4c4f5b" stroke="#4c4f5b" stroke-width="0.2" textLength="9" lengthAdjust="spacingAndGlyphs">O</text>
<text x="414.8" y="24.4" font-size="14" fill="#e46464" stroke="#e46464" stroke-width="0.2" textLength="50" lengthAdjust="spacingAndGlyphs">1.24591</text>
<text x="473.6" y="24.4" font-size="14" fill="#4c4f5b" stroke="#4c4f5b" stroke-width="0.2" textLength="9" lengthAdjust="spacingAndGlyphs">H</text>
<text x="484" y="24.4" font-size="14" fill="#e46464" stroke="#e46464" stroke-width="0.2" textLength="50.2" lengthAdjust="spacingAndGlyphs">1.24607</text>
<text x="542.8" y="24.4" font-size="14" fill="#4c4f5b" stroke="#4c4f5b" stroke-width="0.2" textLength="8.5" lengthAdjust="spacingAndGlyphs">B</text>
<text x="552" y="24.4" font-size="14" fill="#e46464" stroke="#e46464" stroke-width="0.2" textLength="50" lengthAdjust="spacingAndGlyphs">1.24590</text>
<text x="610" y="24.4" font-size="14" fill="#4c4f5b" stroke="#4c4f5b" stroke-width="0.2" textLength="8.5" lengthAdjust="spacingAndGlyphs">C</text>
<text x="620" y="24.4" font-size="14" fill="#e46464" stroke="#e46464" stroke-width="0.2" textLength="50.3" lengthAdjust="spacingAndGlyphs">1.24590</text>
<text x="678.8" y="24.4" font-size="14" fill="#e46464" stroke="#e46464" stroke-width="0.2" textLength="56" lengthAdjust="spacingAndGlyphs">−0.00001</text>
<text x="742" y="24.4" font-size="14" fill="#e46464" stroke="#e46464" stroke-width="0.2" textLength="54" lengthAdjust="spacingAndGlyphs">(−0.00%)</text>
<rect x="1601" y="0" width="71" height="710" fill="#fff"/>
<rect x="0" y="679" width="1672" height="31" fill="#fff"/>
<line x1="1601.5" y1="0" x2="1601.5" y2="710" stroke="#454853" stroke-width="1.15"/>
<line x1="0" y1="679.4" x2="1672" y2="679.4" stroke="#454853" stroke-width="1.15"/>
<line x1="1598.6" y1="35.00" x2="1601" y2="35.00" stroke="#dce6ef" stroke-width="1"/>
<line x1="1598.6" y1="98.78" x2="1601" y2="98.78" stroke="#dce6ef" stroke-width="1"/>
<line x1="1598.6" y1="162.56" x2="1601" y2="162.56" stroke="#dce6ef" stroke-width="1"/>
<line x1="1598.6" y1="226.34" x2="1601" y2="226.34" stroke="#dce6ef" stroke-width="1"/>
<line x1="1598.6" y1="290.12" x2="1601" y2="290.12" stroke="#dce6ef" stroke-width="1"/>
<line x1="1598.6" y1="353.90" x2="1601" y2="353.90" stroke="#dce6ef" stroke-width="1"/>
<line x1="1598.6" y1="417.68" x2="1601" y2="417.68" stroke="#dce6ef" stroke-width="1"/>
<line x1="1598.6" y1="481.46" x2="1601" y2="481.46" stroke="#dce6ef" stroke-width="1"/>
<line x1="1598.6" y1="545.24" x2="1601" y2="545.24" stroke="#dce6ef" stroke-width="1"/>
<line x1="1598.6" y1="609.02" x2="1601" y2="609.02" stroke="#dce6ef" stroke-width="1"/>
<line x1="1598.6" y1="672.80" x2="1601" y2="672.80" stroke="#dce6ef" stroke-width="1"/>
<text x="1613.5" y="39.20" font-size="13" fill="#4c4f5b" textLength="46" lengthAdjust="spacingAndGlyphs">1.24400</text>
<text x="1613.5" y="102.98" font-size="13" fill="#4c4f5b" textLength="46" lengthAdjust="spacingAndGlyphs">1.24350</text>
<text x="1613.5" y="166.76" font-size="13" fill="#4c4f5b" textLength="46" lengthAdjust="spacingAndGlyphs">1.24300</text>
<text x="1613.5" y="230.54" font-size="13" fill="#4c4f5b" textLength="46" lengthAdjust="spacingAndGlyphs">1.24250</text>
<text x="1613.5" y="294.32" font-size="13" fill="#4c4f5b" textLength="46" lengthAdjust="spacingAndGlyphs">1.24200</text>
<text x="1613.5" y="358.10" font-size="13" fill="#4c4f5b" textLength="46" lengthAdjust="spacingAndGlyphs">1.24150</text>
<text x="1613.5" y="421.88" font-size="13" fill="#4c4f5b" textLength="46" lengthAdjust="spacingAndGlyphs">1.24100</text>
<text x="1613.5" y="485.66" font-size="13" fill="#4c4f5b" textLength="46" lengthAdjust="spacingAndGlyphs">1.24050</text>
<text x="1613.5" y="549.44" font-size="13" fill="#4c4f5b" textLength="46" lengthAdjust="spacingAndGlyphs">1.24000</text>
<text x="1613.5" y="613.22" font-size="13" fill="#4c4f5b" textLength="46" lengthAdjust="spacingAndGlyphs">1.23950</text>
<text x="1613.5" y="677.00" font-size="13" fill="#4c4f5b" textLength="46" lengthAdjust="spacingAndGlyphs">1.23900</text>
<rect x="1600.6" y="79.6" width="66.4" height="17.8" rx="2.5" fill="#fff" stroke="#f9bfd2" stroke-width="1.2"/>
<text x="1613.5" y="93.4" font-size="13" fill="#f6a6c0" textLength="46" lengthAdjust="spacingAndGlyphs">1.24358</text>
<text x="1612" y="20.6" font-size="13" fill="#2f3b63" textLength="23" lengthAdjust="spacingAndGlyphs">USD</text>
<polyline points="1639,13.8 1641.6,16.4 1644.2,13.8" fill="none" stroke="#2f3241" stroke-width="1.2"/>
<text x="12.20" y="699.7" font-size="12.5" text-anchor="middle" fill="#4c4f5b" textLength="32" lengthAdjust="spacingAndGlyphs">12:30</text>
<text x="117.91" y="699.7" font-size="12.5" text-anchor="middle" fill="#4c4f5b" textLength="32" lengthAdjust="spacingAndGlyphs">12:40</text>
<text x="223.62" y="699.7" font-size="12.5" text-anchor="middle" fill="#4c4f5b" textLength="32" lengthAdjust="spacingAndGlyphs">12:50</text>
<text x="329.33" y="699.7" font-size="12.5" text-anchor="middle" fill="#2b2e39" font-weight="bold" textLength="34.5" lengthAdjust="spacingAndGlyphs">13:00</text>
<text x="435.04" y="699.7" font-size="12.5" text-anchor="middle" fill="#4c4f5b" textLength="32" lengthAdjust="spacingAndGlyphs">13:10</text>
<text x="540.75" y="699.7" font-size="12.5" text-anchor="middle" fill="#4c4f5b" textLength="32" lengthAdjust="spacingAndGlyphs">13:20</text>
<text x="646.46" y="699.7" font-size="12.5" text-anchor="middle" fill="#4c4f5b" textLength="32" lengthAdjust="spacingAndGlyphs">13:30</text>
<text x="752.17" y="699.7" font-size="12.5" text-anchor="middle" fill="#4c4f5b" textLength="32" lengthAdjust="spacingAndGlyphs">13:40</text>
<text x="857.88" y="699.7" font-size="12.5" text-anchor="middle" fill="#4c4f5b" textLength="32" lengthAdjust="spacingAndGlyphs">13:50</text>
<text x="963.59" y="699.7" font-size="12.5" text-anchor="middle" fill="#2b2e39" font-weight="bold" textLength="34.5" lengthAdjust="spacingAndGlyphs">14:00</text>
<text x="1069.30" y="699.7" font-size="12.5" text-anchor="middle" fill="#4c4f5b" textLength="32" lengthAdjust="spacingAndGlyphs">14:10</text>
<text x="1175.01" y="699.7" font-size="12.5" text-anchor="middle" fill="#4c4f5b" textLength="32" lengthAdjust="spacingAndGlyphs">14:20</text>
<text x="1280.72" y="699.7" font-size="12.5" text-anchor="middle" fill="#4c4f5b" textLength="32" lengthAdjust="spacingAndGlyphs">14:30</text>
<text x="1386.43" y="699.7" font-size="12.5" text-anchor="middle" fill="#4c4f5b" textLength="32" lengthAdjust="spacingAndGlyphs">14:40</text>
<text x="1492.14" y="699.7" font-size="12.5" text-anchor="middle" fill="#4c4f5b" textLength="32" lengthAdjust="spacingAndGlyphs">14:50</text>
<g stroke="#1c1f2b" stroke-width="1.3" fill="none"><circle cx="1636.3" cy="695" r="5.3"/>
<line x1="1636.30" y1="700.30" x2="1636.30" y2="703.40"/>
<line x1="1632.55" y1="698.75" x2="1630.36" y2="700.94"/>
<line x1="1631.00" y1="695.00" x2="1627.90" y2="695.00"/>
<line x1="1632.55" y1="691.25" x2="1630.36" y2="689.06"/>
<line x1="1636.30" y1="689.70" x2="1636.30" y2="686.60"/>
<line x1="1640.05" y1="691.25" x2="1642.24" y2="689.06"/>
<line x1="1641.60" y1="695.00" x2="1644.70" y2="695.00"/>
<line x1="1640.05" y1="698.75" x2="1642.24" y2="700.94"/>
</g>
</svg></body></html>
